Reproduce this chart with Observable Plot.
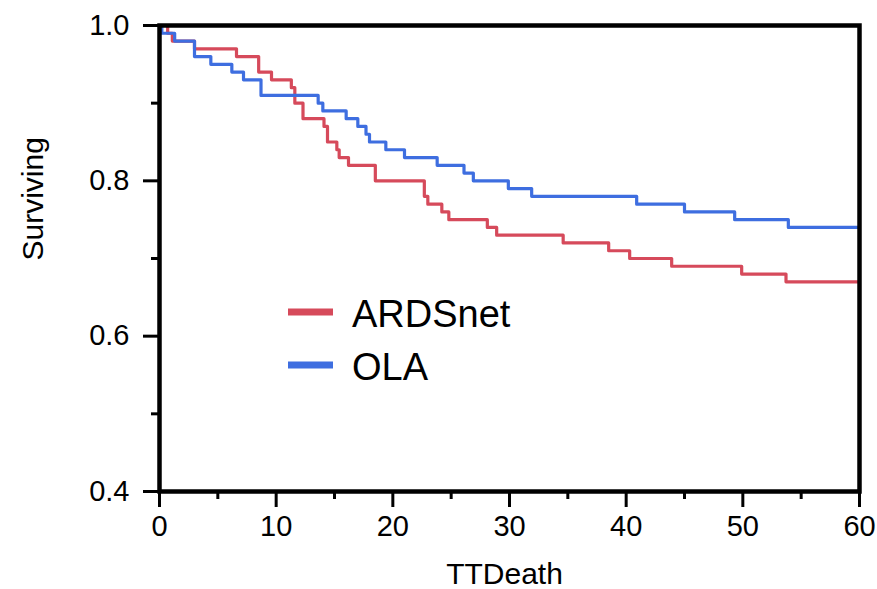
<!DOCTYPE html>
<html>
<head>
<meta charset="utf-8">
<script src="https://cdn.jsdelivr.net/npm/d3@7"></script>
<script src="https://cdn.jsdelivr.net/npm/@observablehq/plot@0.6"></script>
<style>
  html, body { margin: 0; padding: 0; background: #fff; }
  #chart { position: relative; width: 877px; height: 589px; font-family: "Liberation Sans", Arial, sans-serif; }
  #legend { position: absolute; left: 0; top: 0; pointer-events: none; }
</style>
</head>
<body>
<div id="chart"></div>
<script>
// Kaplan–Meier survival steps per treatment arm (time in days, fraction surviving)
const groups = ["ARDSnet", "OLA"];
const colors = ["#d64a5b", "#3e6ee0"];

const ardsTime = [0, 0.7, 1.1, 3.0, 6.6, 8.5, 9.6, 11.3, 11.6, 12.3, 14.1, 14.4, 15.2, 15.4, 16.2, 18.5, 22.7, 23.0, 24.2, 24.8, 28.1, 28.9, 34.6, 38.5, 40.3, 43.9, 49.9, 53.7, 60];
const ardsSurv = [1.0, 0.99, 0.98, 0.97, 0.96, 0.94, 0.93, 0.92, 0.90, 0.88, 0.87, 0.85, 0.84, 0.83, 0.82, 0.80, 0.78, 0.77, 0.76, 0.75, 0.74, 0.73, 0.72, 0.71, 0.70, 0.69, 0.68, 0.67, 0.67];

const olaTime = [0, 0.2, 1.3, 3.0, 4.4, 6.2, 7.2, 8.7, 13.6, 14.0, 16.0, 17.0, 17.7, 18.0, 19.4, 21.0, 23.8, 26.1, 26.9, 29.9, 31.9, 40.9, 45.0, 49.3, 53.9, 60];
const olaSurv = [1.0, 0.99, 0.98, 0.96, 0.95, 0.94, 0.93, 0.91, 0.90, 0.89, 0.88, 0.87, 0.86, 0.85, 0.84, 0.83, 0.82, 0.81, 0.80, 0.79, 0.78, 0.77, 0.76, 0.75, 0.74, 0.74];

// Axis ticks
const xMajor = [0, 10, 20, 30, 40, 50, 60];
const xMinor = [5, 15, 25, 35, 45, 55];
const yMajor = [0.4, 0.6, 0.8, 1.0];
const yMinor = [0.5, 0.7, 0.9];

const xTitle = "TTDeath";
const yTitle = "Surviving";

const series = [[ardsTime, ardsSurv], [olaTime, olaSurv]];
const rows = [];
groups.forEach((g, i) => {
  const [ts, ss] = series[i];
  ts.forEach((t, j) => rows.push({group: g, t, s: ss[j]}));
});

const font = "Liberation Sans, Arial, sans-serif";

const chart = Plot.plot({
  width: 877,
  height: 589,
  marginLeft: 159,
  marginRight: 18,
  marginTop: 25,
  marginBottom: 98,
  style: {fontFamily: font, color: "#000", background: "#fff", overflow: "visible"},
  x: {domain: [0, 60]},
  y: {domain: [0.4, 1.0]},
  color: {domain: groups, range: colors},
  marks: [
    Plot.line(rows, {x: "t", y: "s", z: "group", stroke: "group", curve: "step-after", strokeWidth: 3.2}),
    Plot.frame({stroke: "#000", strokeWidth: 4.5}),
    Plot.axisX({ticks: xMajor, tickSize: 16, strokeWidth: 3, tickPadding: 8, fontSize: 29, label: null, tickFormat: d => String(d)}),
    Plot.axisX({ticks: xMinor, tickSize: 8, strokeWidth: 3, text: null, label: null}),
    Plot.axisY({ticks: yMajor, tickSize: 16, strokeWidth: 3, tickPadding: 14, fontSize: 29, label: null, tickFormat: d3.format(".1f")}),
    Plot.axisY({ticks: yMinor, tickSize: 8, strokeWidth: 3, text: null, label: null}),
    Plot.text([xTitle], {frameAnchor: "bottom", lineAnchor: "top", dy: 71, dx: -5, fontSize: 30, fill: "#000"}),
    Plot.text([yTitle], {frameAnchor: "left", rotate: -90, dx: -126, dy: 2, fontSize: 30, fill: "#000"})
  ]
});

const root = document.getElementById("chart");
root.appendChild(chart);

// Legend drawn as an overlay inside the plotting area
const legendItems = groups.map((g, i) => ({name: g, color: colors[i]}));
const legend = d3.select(root).append("svg")
  .attr("id", "legend")
  .attr("width", 877)
  .attr("height", 589);
const rowY = [312, 365];
legendItems.forEach((d, i) => {
  legend.append("rect")
    .attr("x", 288).attr("y", rowY[i] - 3.5)
    .attr("width", 45).attr("height", 7)
    .attr("fill", d.color);
  legend.append("text")
    .attr("x", 352).attr("y", rowY[i] + 15)
    .attr("font-family", font)
    .attr("font-size", 38)
    .attr("fill", "#000")
    .text(d.name);
});
</script>
</body>
</html>
